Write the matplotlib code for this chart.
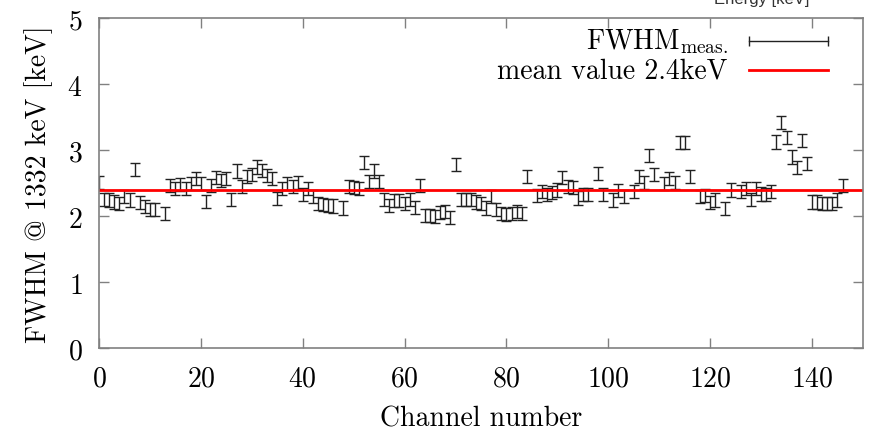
import numpy as np
import matplotlib
matplotlib.use("Agg")
import matplotlib.pyplot as plt

plt.rcParams['font.family'] = 'cmr10'
plt.rcParams['mathtext.fontset'] = 'cm'
plt.rcParams['axes.unicode_minus'] = False
plt.rcParams['axes.formatter.use_mathtext'] = True

# FWHM per channel (missing channels have no entry)
channels = [0, 1, 2, 3, 4, 5, 6, 7, 8, 9, 10, 11, 13, 14, 15, 16, 17, 18, 19,
            20, 21, 22, 23, 24, 25, 26, 27, 28, 29, 30, 31, 32, 33, 34, 35, 36,
            37, 38, 39, 40, 41, 42, 43, 44, 45, 46, 48, 49, 50, 51, 52, 53, 54,
            55, 56, 57, 58, 59, 60, 61, 62, 63, 64, 65, 66, 67, 68, 69, 70, 71,
            72, 73, 74, 75, 76, 77, 78, 79, 80, 81, 82, 83, 84, 86, 87, 88, 89,
            90, 91, 92, 93, 94, 95, 96, 98, 99, 101, 102, 103, 105, 106, 107,
            108, 109, 111, 112, 113, 114, 115, 116, 118, 119, 120, 121, 123,
            124, 126, 127, 128, 129, 130, 131, 132, 133, 134, 135, 136, 137,
            138, 139, 140, 141, 142, 143, 144, 145, 146]
fwhm = [2.52, 2.26, 2.25, 2.22, 2.20, 2.30, 2.25, 2.71, 2.21, 2.15, 2.11, 2.10,
        2.05, 2.47, 2.42, 2.49, 2.42, 2.50, 2.57, 2.50, 2.23, 2.47, 2.59, 2.55,
        2.57, 2.26, 2.69, 2.45, 2.60, 2.64, 2.75, 2.70, 2.62, 2.57, 2.27, 2.43,
        2.50, 2.45, 2.51, 2.33, 2.43, 2.30, 2.20, 2.18, 2.17, 2.16, 2.13, 2.46,
        2.44, 2.43, 2.82, 2.53, 2.69, 2.53, 2.26, 2.17, 2.24, 2.24, 2.20, 2.26,
        2.14, 2.47, 2.01, 2.01, 2.00, 2.06, 2.08, 1.98, 2.79, 2.26, 2.26, 2.26,
        2.22, 2.20, 2.13, 2.30, 2.10, 2.04, 2.03, 2.04, 2.08, 2.05, 2.61, 2.32,
        2.38, 2.33, 2.36, 2.40, 2.59, 2.46, 2.44, 2.28, 2.33, 2.33, 2.65, 2.33,
        2.25, 2.39, 2.30, 2.38, 2.61, 2.52, 2.93, 2.64, 2.50, 2.57, 2.52, 3.12,
        3.12, 2.61, 2.30, 2.32, 2.21, 2.25, 2.12, 2.40, 2.38, 2.42, 2.26, 2.42,
        2.34, 2.33, 2.38, 3.13, 3.42, 3.20, 2.90, 2.74, 3.15, 2.80, 2.22, 2.22,
        2.20, 2.20, 2.20, 2.25, 2.47]
fwhm_err = 0.1
mean_value = 2.4

fig = plt.figure(figsize=(8.73, 4.35), dpi=100)
ax = fig.add_axes([0.1134, 0.1966, 0.8751, 0.7586])

ax.errorbar(channels, fwhm, yerr=fwhm_err, fmt='none', ecolor='#222222',
            elinewidth=1.0, capsize=3.6, capthick=1.0)
ax.axhline(mean_value, color='#ff0000', lw=2)

ax.set_xlim(0, 150)
ax.set_ylim(0, 5)
ax.set_xticks(np.arange(0, 141, 20))
ax.set_yticks(np.arange(0, 6, 1))
ax.tick_params(direction='in', length=7, width=1, color='#808080',
               top=True, right=True, labelsize=20, pad=12)
for s in ax.spines.values():
    s.set_color('#808080')
    s.set_linewidth(1.2)

ax.set_xlabel('Channel number', fontsize=20, labelpad=10)
ax.set_ylabel('FWHM @ 1332 keV [keV]', fontsize=20, labelpad=10)

# gnuplot-style key: text right aligned, sample on the right
tr = ax.transAxes
ax.text(0.823, 0.932, r'FWHM$_{\mathrm{meas.}}$', transform=tr,
        ha='right', va='center', fontsize=20)
ax.plot([0.851, 0.954], [0.932, 0.932], transform=tr, color='#222222',
        lw=1, marker='|', markersize=7, mew=1)
ax.text(0.823, 0.844, 'mean value 2.4keV', transform=tr,
        ha='right', va='center', fontsize=20)
ax.plot([0.851, 0.954], [0.844, 0.844], transform=tr, color='#ff0000', lw=2)

# cut-off caption from the slide above
fig.text(0.872, 0.991, 'Energy [keV]', ha='center', va='baseline',
         fontsize=12, family='Liberation Sans', color='#333333')

fig.savefig('out.png', dpi=100)
